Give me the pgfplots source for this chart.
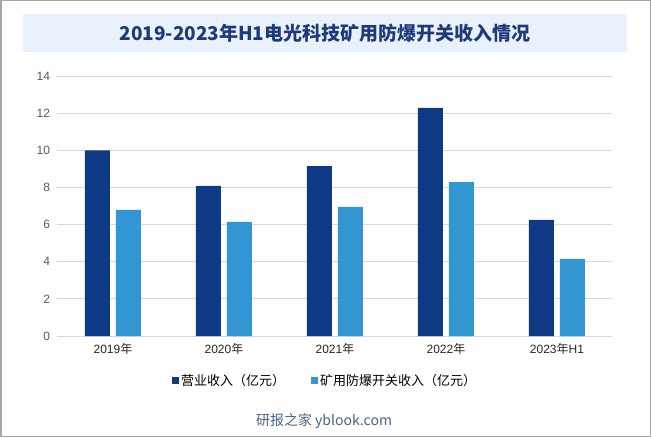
\documentclass[border=0pt]{standalone}
\usepackage{pgfplots}
\pgfplotsset{compat=1.18}
\usepackage{fontspec}
\setmainfont{Liberation Sans}
\newfontfamily\cjk{Noto Sans CJK SC}
\definecolor{darkbar}{RGB}{14,57,132}
\definecolor{lightbar}{RGB}{50,150,210}
\definecolor{gridc}{RGB}{217,217,217}
\definecolor{titlec}{RGB}{31,58,122}
\definecolor{bandc}{RGB}{233,241,252}
\definecolor{wmc}{RGB}{70,100,140}
\begin{document}
\begin{tikzpicture}[x=1pt,y=1pt]
\path (0,0) rectangle (651,437);
\draw[gray!70, line width=1.5pt] (0.75,0.75) rectangle (650.25,436.25);
\fill[bandc] (23,385) rectangle (627,423);
\node[font=\cjk\bfseries\fontsize{19}{22}\selectfont, text=titlec] at (325,404) {2019-2023年H1电光科技矿用防爆开关收入情况};
\node[font=\cjk\fontsize{14}{16}\selectfont, text=wmc] at (324,16) {研报之家 yblook.com};
\begin{axis}[
  at={(57.5pt,101pt)}, anchor=south west,
  width=555pt, height=260pt, scale only axis,
  xmin=-0.5, xmax=4.5, ymin=0, ymax=14,
  ytick={0,2,...,14},
  xtick={0,1,2,3,4},
  xticklabels={2019{\cjk 年},2020{\cjk 年},2021{\cjk 年},2022{\cjk 年},2023{\cjk 年}H1},
  axis line style={draw=none},
  ymajorgrids, grid style={gridc, line width=1pt},
  major tick length=0pt,
  tick label style={font=\fontsize{12}{14}\selectfont},
  yticklabel style={text=black!65, xshift=-4pt},
  xticklabel style={text=black!85, font=\fontsize{12}{14}\selectfont, yshift=-4pt},
  /pgf/number format/assume math mode=true,
  legend columns=2,
  legend style={at={(0.482,-0.173)}, anchor=center, draw=none, fill=none,
    font=\cjk\fontsize{13}{15}\selectfont, /tikz/every even column/.append style={column sep=24pt}},
  legend image code/.code={\path[#1,draw=none] (0pt,-3.5pt) rectangle (7pt,3.5pt);},
]
\addplot[ybar, bar width=25pt, bar shift=-15.5pt, fill=darkbar, draw=none] coordinates {(0,10.0) (1,8.08) (2,9.15) (3,12.28) (4,6.25)};
\addlegendentry{营业收入（亿元）}
\addplot[ybar, bar width=25pt, bar shift=15.5pt, fill=lightbar, draw=none] coordinates {(0,6.79) (1,6.14) (2,6.95) (3,8.29) (4,4.15)};
\addlegendentry{矿用防爆开关收入（亿元）}
\end{axis}
\end{tikzpicture}
\end{document}
